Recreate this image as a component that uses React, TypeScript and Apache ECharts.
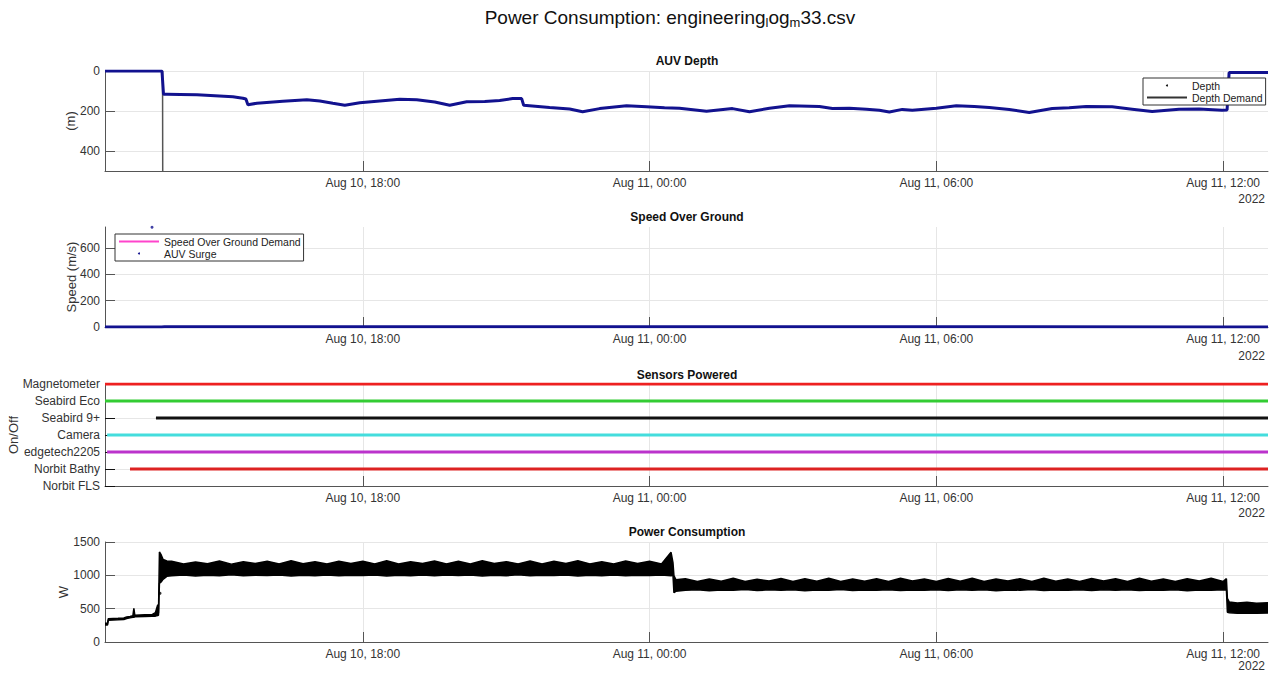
import React, { useEffect, useRef } from 'react';
import * as echarts from 'echarts';

const FONT = '"Liberation Sans", Arial, Helvetica, sans-serif';
const MONTHS = ['Jan', 'Feb', 'Mar', 'Apr', 'May', 'Jun', 'Jul', 'Aug', 'Sep', 'Oct', 'Nov', 'Dec'];

// x axis in hours since 2022-08-10 00:00
const X_MIN_H = 12.606;
const X_MAX_H = 36.94;
const xTickHours = [18, 24, 30, 36];

// ---------- AUV Depth ----------
const depthHours = [
  12.606, 13.798, 13.83, 13.902, 14.174, 14.53, 14.906, 15.282, 15.491, 15.554,
  15.596, 15.784, 16.056, 16.328, 16.829, 17.101, 17.373, 17.624, 17.937, 18.355,
  18.774, 19.129, 19.505, 19.819, 20.174, 20.551, 20.864, 21.136, 21.324, 21.366,
  21.909, 22.327, 22.599, 22.955, 23.519, 23.937, 24.313, 24.627, 25.192, 25.735,
  26.091, 26.509, 26.927, 27.554, 27.826, 28.181, 28.537, 28.808, 29.017, 29.289,
  29.498, 30.0, 30.418, 30.794, 31.108, 31.526, 31.944, 32.425, 32.78, 33.136,
  33.679, 34.098, 34.516, 35.08, 35.498, 35.979, 36.084, 36.126, 36.94,
];
const depthValues = [
  0, 0, 116, 116, 117, 119, 124, 129, 136, 140,
  169, 161, 156, 151, 144, 150, 161, 171, 159, 150,
  141, 144, 155, 171, 154, 152, 148, 138, 138, 171,
  182, 190, 204, 188, 174, 179, 184, 186, 201, 188,
  204, 186, 174, 178, 188, 186, 191, 196, 205, 192,
  196, 186, 174, 178, 183, 192, 208, 188, 184, 178,
  179, 191, 203, 191, 190, 196, 195, 8, 8,
];
const depthDemandHours = [12.606, 13.81, 13.815];
const depthDemandValues = [0, 0, 700];
const depthTickInterval = 200;

// ---------- Speed Over Ground ----------
const surgeHours = [12.606, 13.79, 13.85, 16, 20, 24.5, 28, 32, 36.08, 36.94];
const surgeValues = [0.8, 0.8, 1.6, 1.5, 1.7, 1.5, 1.6, 1.5, 0.5, 0.5];
const surgeOutlierHours = [13.59];
const surgeOutlierValues = [758];
const sogDemandHours = [12.606, 36.94];
const sogDemandValues = [1.5, 1.5];
const speedTickInterval = 200;

// ---------- Sensors Powered ----------
const sensorAxisLabels = ['Norbit FLS', 'Norbit Bathy', 'edgetech2205', 'Camera', 'Seabird 9+', 'Seabird Eco', 'Magnetometer'];
const sensorOnNames = ['Magnetometer', 'Seabird Eco', 'Seabird 9+', 'Camera', 'edgetech2205', 'Norbit Bathy'];
const sensorOnStart = [12.606, 12.606, 13.672, 12.65, 12.65, 13.129];
const sensorOnEnd = [36.94, 36.94, 36.94, 36.94, 36.94, 36.94];
const sensorColors = ['#ee2020', '#33cc33', '#111111', '#44dddd', '#bb33cc', '#dd2222'];

// ---------- Power Consumption ----------
const powerHours = [
  12.606, 12.66, 12.675, 12.88, 13.0, 13.06, 13.13, 13.19, 13.21, 13.23,
  13.44, 13.59, 13.66, 13.71, 13.725, 13.745, 13.78, 13.82, 13.9,
  14.0, 14.25, 14.5, 14.75, 15.0, 15.25, 15.5, 15.75, 16.0, 16.25,
  16.5, 16.75, 17.0, 17.25, 17.5, 17.75, 18.0, 18.25, 18.5, 18.75,
  19.0, 19.25, 19.5, 19.75, 20.0, 20.25, 20.5, 20.75, 21.0, 21.25,
  21.5, 21.75, 22.0, 22.25, 22.5, 22.75, 23.0, 23.25, 23.5, 23.75,
  24.0, 24.25,
  24.45, 24.49, 24.51, 24.55,
  24.75, 25.0, 25.25, 25.5, 25.75, 26.0, 26.25, 26.5, 26.75, 27.0,
  27.25, 27.5, 27.75, 28.0, 28.25, 28.5, 28.75, 29.0, 29.25, 29.5,
  29.75, 30.0, 30.25, 30.5, 30.75, 31.0, 31.25, 31.5, 31.75, 32.0,
  32.25, 32.5, 32.75, 33.0, 33.25, 33.5, 33.75, 34.0, 34.25, 34.5,
  34.75, 35.0, 35.25, 35.5, 35.75, 36.0,
  36.07, 36.09, 36.13, 36.3, 36.5, 36.7, 36.94,
];
const powerLow = [
  255, 255, 328, 333, 338, 352, 362, 370, 372, 378,
  382, 385, 388, 398, 400, 880, 900, 940, 985,
  995, 1005, 990, 1000, 995, 1008, 992, 1002, 996, 1006,
  990, 1000, 995, 1005, 992, 1003, 996, 1006, 990, 1002,
  995, 1005, 993, 1004, 996, 1006, 991, 1001, 995, 1007,
  992, 1002, 996, 1005, 990, 1003, 995, 1006, 993, 1002,
  996, 1005,
  992, 1000, 740, 760,
  775, 785, 770, 780, 776, 786, 772, 782, 775, 784,
  770, 780, 777, 786, 772, 781, 775, 785, 771, 780,
  776, 785, 772, 782, 775, 784, 770, 781, 777, 786,
  772, 780, 775, 785, 771, 782, 776, 784, 772, 780,
  775, 785, 770, 781, 777, 784,
  780, 445, 440, 430, 435, 430, 435,
];
const powerHigh = [
  280, 282, 350, 355, 360, 374, 384, 395, 505, 400,
  408, 410, 440, 560, 430, 1350, 1310, 1240, 1215,
  1210, 1170, 1200, 1175, 1215, 1168, 1205, 1178, 1210, 1172,
  1218, 1175, 1205, 1170, 1212, 1178, 1210, 1172, 1218, 1170,
  1205, 1178, 1215, 1172, 1210, 1170, 1218, 1178, 1205, 1172,
  1215, 1170, 1210, 1178, 1218, 1172, 1205, 1170, 1215, 1178,
  1210, 1172,
  1345, 1190, 995, 935,
  950, 908, 945, 912, 955, 908, 942, 914, 952, 908,
  948, 912, 956, 908, 944, 912, 950, 908, 955, 914,
  946, 908, 952, 912, 956, 908, 944, 914, 950, 908,
  955, 912, 946, 908, 952, 914, 948, 908, 955, 912,
  944, 908, 950, 914, 955, 908,
  950, 655, 600, 585, 595, 580, 590,
];
const powerDotHours = [13.757];
const powerDotValues = [730];
const powerTickInterval = 500;

const pad = (n: number) => (n < 10 ? '0' + n : '' + n);
const fmtHours = (h: number) => {
  const totalMin = Math.round(h * 60);
  const day = 10 + Math.floor(totalMin / 1440);
  const rem = totalMin % 1440;
  return `${MONTHS[7]} ${day}, ${pad(Math.floor(rem / 60))}:${pad(rem % 60)}`;
};

const GRID_LEFT = 105;
const GRID_WIDTH = 1163;
const gridBase = { left: GRID_LEFT, width: GRID_WIDTH, outerBoundsMode: 'none', containLabel: false };
const grids = [
  { ...gridBase, top: 71, height: 100 },
  { ...gridBase, top: 227, height: 100 },
  { ...gridBase, top: 384, height: 102 },
  { ...gridBase, top: 542, height: 100 },
];

const AXIS_COLOR = '#555';
const GRID_COLOR = '#e6e6e6';
const LABEL_COLOR = '#333';

function xAxis(gi: number) {
  return {
    type: 'value',
    gridIndex: gi,
    min: X_MIN_H,
    max: X_MAX_H,
    axisLine: { show: true, onZero: false, lineStyle: { color: AXIS_COLOR, width: 1 } },
    axisTick: {
      show: true,
      inside: true,
      length: 10,
      customValues: xTickHours,
      lineStyle: { color: AXIS_COLOR },
    },
    splitLine: { show: true, lineStyle: { color: GRID_COLOR } },
    axisLabel: {
      formatter: (v: number) => fmtHours(v),
      customValues: xTickHours,
      color: LABEL_COLOR,
      fontSize: 12,
      fontFamily: FONT,
      margin: 6,
      hideOverlap: false,
    },
  };
}

const numLabel = (extra: any = {}) => ({
  color: LABEL_COLOR,
  fontSize: 12,
  fontFamily: FONT,
  margin: 5,
  formatter: (v: number) => String(v),
  ...extra,
});

function yValueAxis(gi: number, extra: any) {
  return {
    type: 'value',
    gridIndex: gi,
    axisLine: { show: true, onZero: false, lineStyle: { color: AXIS_COLOR, width: 1 } },
    axisTick: { show: true, inside: true, length: 10, lineStyle: { color: AXIS_COLOR } },
    axisLabel: numLabel(),
    splitLine: { show: true, lineStyle: { color: GRID_COLOR } },
    nameLocation: 'middle',
    nameRotate: 90,
    nameMoveOverlap: false,
    nameTextStyle: { color: LABEL_COLOR, fontSize: 13, fontFamily: FONT },
    ...extra,
  };
}

function pairs(hours: number[], values: number[]) {
  return hours.map((h, i) => [h, values[i]]);
}
// value first, hour second (used with encode {x: 1, y: 0} so that stacking applies to y)
function pairsYX(hours: number[], values: number[]) {
  return hours.map((h, i) => [values[i], h]);
}

function txt(text: string, x: number, y: number, opts: any = {}) {
  return {
    type: 'text',
    x,
    y,
    silent: true,
    z: 100,
    style: {
      text,
      fill: opts.fill || '#111',
      fontSize: opts.fontSize || 12,
      fontWeight: opts.fontWeight || 'normal',
      fontFamily: FONT,
      align: opts.align || 'center',
      verticalAlign: 'middle',
      textAlign: opts.align || 'center',
      textVerticalAlign: 'middle',
      rich: opts.rich,
    },
  };
}

export default function App() {
  const ref = useRef<HTMLDivElement>(null);

  useEffect(() => {
    if (!ref.current) return;
    const chart = echarts.init(ref.current, null, { renderer: 'svg' });

    const sensorSeries = sensorOnNames.map((name, i) => ({
      name,
      type: 'line',
      xAxisIndex: 2,
      yAxisIndex: 2,
      symbol: 'none',
      lineStyle: { color: sensorColors[i], width: 3 },
      itemStyle: { color: sensorColors[i] },
      data: [
        [sensorOnStart[i], name],
        [sensorOnEnd[i], name],
      ],
    }));

    const powerBand = powerHigh.map((h, i) => h - powerLow[i]);

    const legendBase = {
      orient: 'vertical',
      itemWidth: 40,
      itemHeight: 2,
      itemGap: 1,
      padding: [2, 3, 2, 4],
      backgroundColor: '#fff',
      borderColor: '#333',
      borderWidth: 1,
      borderRadius: 0,
      selectedMode: false,
      textStyle: { fontSize: 10.5, color: '#222', fontFamily: FONT },
    };

    const option: any = {
      animation: false,
      backgroundColor: '#fff',
      grid: grids,
      xAxis: [xAxis(0), xAxis(1), xAxis(2), xAxis(3)],
      yAxis: [
        yValueAxis(0, {
          min: 0,
          max: 500,
          interval: depthTickInterval,
          inverse: true,
          name: '(m)',
          nameGap: 28,
          axisLabel: numLabel({ showMaxLabel: false }),
        }),
        yValueAxis(1, {
          min: 0,
          max: 760,
          interval: speedTickInterval,
          name: 'Speed (m/s)',
          nameGap: 27,
          axisLabel: numLabel({ showMaxLabel: false }),
          splitLine: { show: true, showMaxLine: false, lineStyle: { color: GRID_COLOR } },
        }),
        {
          type: 'category',
          gridIndex: 2,
          data: sensorAxisLabels,
          boundaryGap: false,
          axisLine: { show: true, onZero: false, lineStyle: { color: AXIS_COLOR, width: 1 } },
          axisTick: { show: true, inside: true, length: 10, alignWithLabel: true, lineStyle: { color: '#111' } },
          axisLabel: { color: LABEL_COLOR, fontSize: 12, fontFamily: FONT, margin: 5, interval: 0 },
          splitLine: { show: true, interval: 0, lineStyle: { color: GRID_COLOR } },
          name: 'On/Off',
          nameLocation: 'middle',
          nameRotate: 90,
          nameGap: 85,
          nameMoveOverlap: false,
          nameTextStyle: { color: LABEL_COLOR, fontSize: 13, fontFamily: FONT },
        },
        yValueAxis(3, {
          min: 0,
          max: 1500,
          interval: powerTickInterval,
          name: 'W',
          nameGap: 35,
        }),
      ],
      legend: [
        {
          ...legendBase,
          left: 1143,
          top: 78,
          data: [
            { name: 'Depth', icon: 'circle', itemStyle: { color: '#111' } },
            { name: 'Depth Demand', icon: 'rect', itemStyle: { color: '#333' } },
          ],
        },
        {
          ...legendBase,
          left: 115,
          top: 234,
          data: [
            { name: 'Speed Over Ground Demand', icon: 'rect', itemStyle: { color: '#ff44cc' } },
            { name: 'AUV Surge', icon: 'circle', itemStyle: { color: '#12128f' } },
          ],
        },
      ],
      series: [
        {
          name: 'Depth Demand',
          type: 'line',
          xAxisIndex: 0,
          yAxisIndex: 0,
          symbol: 'none',
          lineStyle: { color: '#555', width: 1.5 },
          itemStyle: { color: '#333' },
          data: pairs(depthDemandHours, depthDemandValues),
        },
        {
          name: 'Depth',
          type: 'line',
          xAxisIndex: 0,
          yAxisIndex: 0,
          symbol: 'none',
          lineStyle: { color: '#12128f', width: 3 },
          itemStyle: { color: '#12128f' },
          data: pairs(depthHours, depthValues),
        },
        {
          name: 'Speed Over Ground Demand',
          type: 'line',
          xAxisIndex: 1,
          yAxisIndex: 1,
          symbol: 'none',
          lineStyle: { color: '#ff44cc', width: 1 },
          itemStyle: { color: '#ff44cc' },
          data: pairs(sogDemandHours, sogDemandValues),
        },
        {
          name: 'AUV Surge',
          type: 'line',
          xAxisIndex: 1,
          yAxisIndex: 1,
          symbol: 'none',
          lineStyle: { color: '#12128f', width: 3 },
          itemStyle: { color: '#12128f' },
          data: pairs(surgeHours, surgeValues),
        },
        {
          name: 'AUV Surge',
          type: 'scatter',
          xAxisIndex: 1,
          yAxisIndex: 1,
          symbolSize: 3,
          itemStyle: { color: '#12128f' },
          data: pairs(surgeOutlierHours, surgeOutlierValues),
        },
        ...sensorSeries,
        {
          name: 'PowerLow',
          type: 'line',
          xAxisIndex: 3,
          yAxisIndex: 3,
          stack: 'power',
          encode: { x: 1, y: 0 },
          symbol: 'none',
          lineStyle: { color: '#000', width: 1.5 },
          itemStyle: { color: '#000' },
          data: pairsYX(powerHours, powerLow),
        },
        {
          name: 'PowerBand',
          type: 'line',
          xAxisIndex: 3,
          yAxisIndex: 3,
          stack: 'power',
          encode: { x: 1, y: 0 },
          symbol: 'none',
          lineStyle: { color: '#000', width: 1.5 },
          areaStyle: { color: '#000', opacity: 1 },
          itemStyle: { color: '#000' },
          data: pairsYX(powerHours, powerBand),
        },
        {
          name: 'PowerDots',
          type: 'scatter',
          xAxisIndex: 3,
          yAxisIndex: 3,
          symbolSize: 3,
          itemStyle: { color: '#000' },
          data: pairs(powerDotHours, powerDotValues),
        },
      ],
      graphic: [
        txt('Power Consumption: engineering{s|l}og{s|m}33.csv', 670, 17, {
          fontSize: 19,
          rich: { s: { fontSize: 13, fontFamily: FONT, fill: '#111', padding: [11, 0, 0, 0] } },
        }),
        txt('AUV Depth', 687, 61, { fontWeight: 'bold' }),
        txt('Speed Over Ground', 687, 217, { fontWeight: 'bold' }),
        txt('Sensors Powered', 687, 375, { fontWeight: 'bold' }),
        txt('Power Consumption', 687, 532, { fontWeight: 'bold' }),
        txt('2022', 1265, 199, { align: 'right', fill: LABEL_COLOR }),
        txt('2022', 1265, 356, { align: 'right', fill: LABEL_COLOR }),
        txt('2022', 1265, 513, { align: 'right', fill: LABEL_COLOR }),
        txt('2022', 1265, 666, { align: 'right', fill: LABEL_COLOR }),
      ],
    };

    chart.setOption(option);
    return () => chart.dispose();
  }, []);

  return (
    <div
      ref={ref}
      style={{ position: 'fixed', left: 0, top: 0, width: 1269, height: 674, background: '#fff' }}
    />
  );
}
